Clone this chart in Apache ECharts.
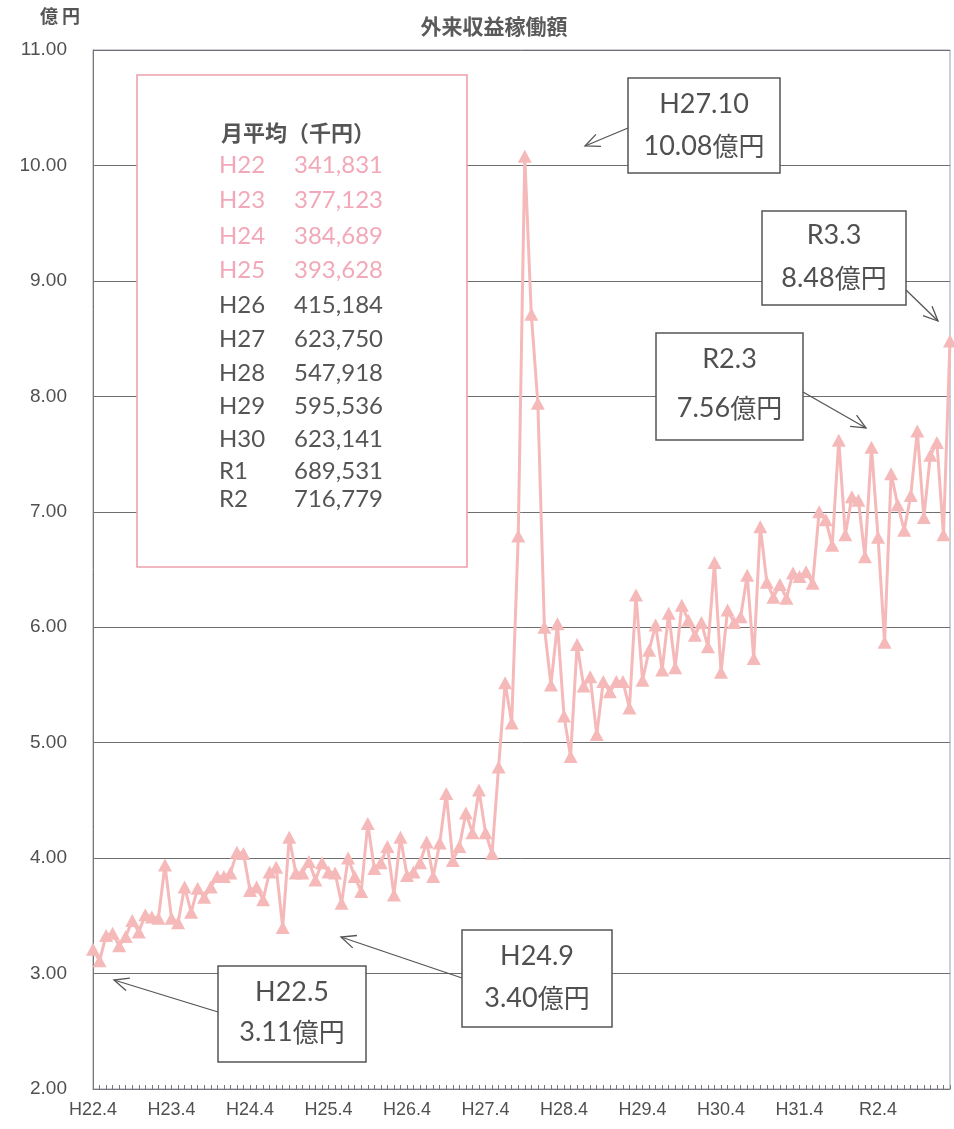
<!DOCTYPE html>
<html><head><meta charset="utf-8">
<script src="https://cdn.jsdelivr.net/npm/echarts@6/dist/echarts.min.js"></script>
<style>html,body{margin:0;padding:0;background:#fff}#c{width:954px;height:1129px}</style>
</head><body><div id="c"></div>
<script>
// fiscal years shown on the axis (April of each)
const fiscalYears = ['H22','H23','H24','H25','H26','H27','H28','H29','H30','H31','R2'];
const nextYearLabel = ['H23','H24','H25','H26','H27','H28','H29','H30','R1','R2','R3'];
// monthly values (億円), April .. March of each fiscal year
const fyH22 = [3.21,3.11,3.33,3.35,3.24,3.32,3.46,3.36,3.51,3.49,3.48,3.94];
const fyH23 = [3.48,3.44,3.75,3.53,3.74,3.66,3.75,3.84,3.84,3.87,4.05,4.04];
const fyH24 = [3.72,3.75,3.64,3.88,3.92,3.40,4.18,3.87,3.87,3.97,3.81,3.96];
const fyH25 = [3.88,3.87,3.61,4.00,3.84,3.71,4.30,3.91,3.96,4.10,3.68,4.18];
const fyH26 = [3.85,3.88,3.96,4.14,3.84,4.13,4.56,3.98,4.10,4.39,4.22,4.59];
const fyH27 = [4.22,4.04,4.79,5.52,5.17,6.79,10.08,8.71,7.94,6.00,5.50,6.03];
const fyH28 = [5.23,4.88,5.85,5.49,5.57,5.07,5.53,5.44,5.53,5.53,5.30,6.28];
const fyH29 = [5.54,5.80,6.02,5.63,6.12,5.65,6.19,6.06,5.93,6.04,5.83,6.56];
const fyH30 = [5.61,6.15,6.04,6.09,6.45,5.73,6.87,6.39,6.26,6.37,6.25,6.47];
const fyR1  = [6.44,6.48,6.38,7.00,6.93,6.71,7.62,6.80,7.13,7.10,6.61,7.56];
const fyR2  = [6.78,5.87,7.33,7.06,6.84,7.14,7.70,6.95,7.49,7.60,6.80,8.48];
const yearly = [fyH22,fyH23,fyH24,fyH25,fyH26,fyH27,fyH28,fyH29,fyH30,fyR1,fyR2];
// monthly average table (千円)
const avgYears  = ['H22','H23','H24','H25','H26','H27','H28','H29','H30','R1','R2'];
const avgValues = ['341,831','377,123','384,689','393,628','415,184','623,750','547,918','595,536','623,141','689,531','716,779'];
// callouts
const callouts = [
  {label:'H27.10', value:'10.08'},
  {label:'R3.3', value:'8.48'},
  {label:'R2.3', value:'7.56'},
  {label:'H24.9', value:'3.40'},
  {label:'H22.5', value:'3.11'}
];

const months = [];
const values = [];
fiscalYears.forEach((fy, k) => {
  const ms = [4,5,6,7,8,9,10,11,12,1,2,3];
  ms.forEach((m, j) => {
    months.push((m >= 4 ? fy : nextYearLabel[k]) + '.' + m);
    values.push(yearly[k][j]);
  });
});

const chart = echarts.init(document.getElementById('c'));
const grey = '#505050';
const pinkText = '#F2A8B8';

function arrow(x1,y1,x2,y2){
  const ang = Math.atan2(y2-y1, x2-x1);
  const L = 16, a = 0.42;
  const p1 = [x2 - L*Math.cos(ang - a), y2 - L*Math.sin(ang - a)];
  const p2 = [x2 - L*Math.cos(ang + a), y2 - L*Math.sin(ang + a)];
  return [
    {type:'line', shape:{x1,y1,x2,y2}, style:{stroke:'#555', lineWidth:1.3}, z:20},
    {type:'polyline', shape:{points:[p1,[x2,y2],p2]}, style:{stroke:'#555', lineWidth:1.3, fill:null}, z:20}
  ];
}
function box(x,y,w,h,c,l1y,l2y){
  const cx = x + w/2;
  return [
    {type:'rect', shape:{x,y,width:w,height:h}, style:{fill:'#fff', stroke:'#555', lineWidth:1.5}, z:20},
    {type:'text', x:cx, y:l1y, style:{text:c.label, fill:grey, font:'27px Lato', align:'center', verticalAlign:'middle'}, z:21},
    {type:'text', x:cx, y:l2y, style:{text:'{b|'+c.value+'}{n|億円}', align:'center', verticalAlign:'middle',
      rich:{b:{fill:grey, font:'27px Lato'}, n:{fill:grey, font:'26px "Noto Sans CJK JP"'}}}, z:21}
  ];
}

const g = [];
g.push({type:'text', left:40, top:7, style:{text:'億 円', fill:'#555', font:'bold 18px "Noto Sans CJK JP"'}});
g.push({type:'text', x:494, y:26, style:{text:'外来収益稼働額', fill:'#5a5a5a', font:'bold 21px "Noto Sans CJK JP"', align:'center', verticalAlign:'middle'}});
// average table
g.push({type:'rect', shape:{x:137,y:75,width:330,height:492}, style:{fill:'#fff', stroke:'#F0A0AE', lineWidth:1.6}, z:10});
g.push({type:'text', x:298, y:133, style:{text:'月平均（千円）', fill:'#555', font:'bold 22px "Noto Sans CJK JP"', align:'center', verticalAlign:'middle'}, z:11});
const rowY = [165,200,236,270,305,339,373,406,439,471,499];
avgYears.forEach((yr, i) => {
  const col = i < 4 ? pinkText : '#555';
  g.push({type:'text', x:219, y:rowY[i], style:{text:yr, fill:col, font:'24px Lato', align:'left', verticalAlign:'middle'}, z:11});
  g.push({type:'text', x:383, y:rowY[i], style:{text:avgValues[i], fill:col, font:'24px Lato', align:'right', verticalAlign:'middle'}, z:11});
});
// callouts
g.push(...box(628,78,152,95,callouts[0],104,146));
g.push(...arrow(628,128,585,146));
g.push(...box(762,211,144,94,callouts[1],235,278));
g.push(...arrow(906,290,938,321));
g.push(...box(656,333,147,107,callouts[2],359,408));
g.push(...arrow(803,392,866,428));
g.push(...box(462,930,150,97,callouts[3],956,998));
g.push(...arrow(462,978,341,937));
g.push(...box(218,966,148,96,callouts[4],992,1032));
g.push(...arrow(218,1012,114,980));

chart.setOption({
  animation:false,
  backgroundColor:'#fff',
  grid:{left:93, right:4, top:50, bottom:40, show:true, borderColor:'#9aa0b8', borderWidth:1},
  xAxis:{
    type:'category', data:months, boundaryGap:false,
    axisLine:{lineStyle:{color:'#777', width:1}},
    axisTick:{show:true, inside:true, length:4, interval:0, lineStyle:{color:'#777'}},
    axisLabel:{interval:(i)=> i % 12 === 0, color:grey, fontSize:18, fontFamily:'"Liberation Sans"', margin:12},
    splitLine:{show:false}
  },
  yAxis:{
    type:'value', min:2, max:11, interval:1,
    axisLine:{show:true, lineStyle:{color:'#777'}},
    axisTick:{show:false},
    axisLabel:{formatter:(v)=>v.toFixed(2), color:grey, fontSize:19, fontFamily:'"Liberation Sans"', margin:26},
    splitLine:{lineStyle:{color:'#6e6e6e', width:1}}
  },
  series:[{
    type:'line', data:values,
    lineStyle:{color:'#F6B9B9', width:3},
    itemStyle:{color:'#F6B9B9'},
    symbol:'triangle', symbolSize:[14,13], showAllSymbol:true,
    z:5
  }],
  graphic:g
});
</script></body></html>
